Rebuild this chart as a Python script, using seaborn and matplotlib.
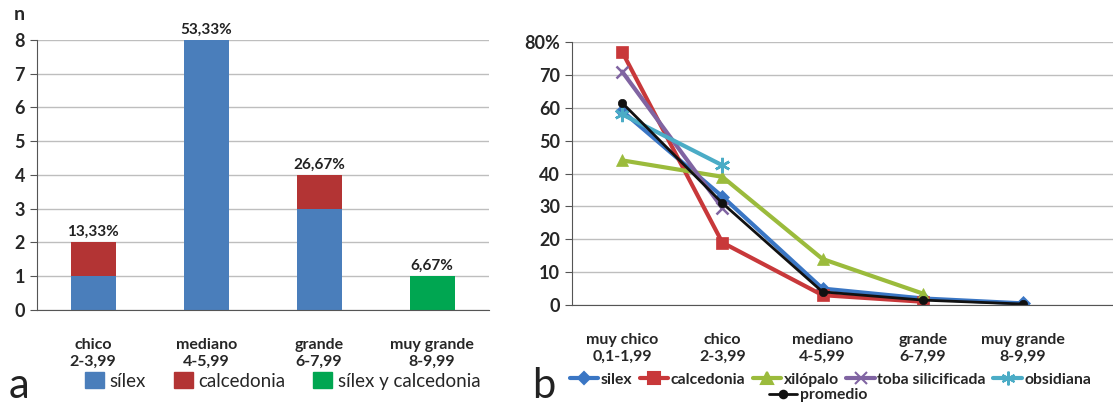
import numpy as np
import pandas as pd
import seaborn as sns
import matplotlib.pyplot as plt
from matplotlib.patches import Patch
from matplotlib.lines import Line2D

# panel a data
bar_cats = ['chico\n2-3,99', 'mediano\n4-5,99', 'grande\n6-7,99', 'muy grande\n8-9,99']
silex_n = [1, 8, 3, 0]
calcedonia_n = [1, 0, 1, 0]
mixto_n = [0, 0, 0, 1]
pct_labels = ['13,33%', '53,33%', '26,67%', '6,67%']

# panel b data
line_cats = ['muy chico\n0,1-1,99', 'chico\n2-3,99', 'mediano\n4-5,99', 'grande\n6-7,99', 'muy grande\n8-9,99']
silex_pct = [59, 33, 5, 2, 0.5]
calcedonia_pct = [77, 19, 3, 1, np.nan]
xilopalo_pct = [44, 39, 14, 3.5, np.nan]
toba_pct = [71, 29.5, np.nan, np.nan, np.nan]
obsidiana_pct = [58, 42.5, np.nan, np.nan, np.nan]
promedio_pct = [61.5, 31, 4, 1.5, 0.3]

sns.set_style("white")
plt.rcParams['font.family'] = ['Lato', 'DejaVu Sans']

BLUE = '#4A7EBB'
RED = '#B33434'
GREEN = '#00A651'
GRID = '#BEBEBE'

fig = plt.figure(figsize=(11.13, 4.04), dpi=100)


def style_axis(ax):
    ax.yaxis.grid(True, color=GRID, linewidth=1)
    ax.set_axisbelow(True)
    for s in ['top', 'right']:
        ax.spines[s].set_visible(False)
    for s in ['left', 'bottom']:
        ax.spines[s].set_color('#555555')
    ax.tick_params(axis='x', which='major', length=0, pad=20)
    ax.tick_params(axis='x', which='minor', length=5, color='#555555', direction='out')
    ax.tick_params(axis='y', length=5, color='#555555', left=True, direction='out')
    for lab in ax.get_xticklabels():
        lab.set_fontweight('bold')
        lab.set_fontsize(11.5)
        lab.set_linespacing(1.25)
    for lab in ax.get_yticklabels():
        lab.set_fontweight('bold')
        lab.set_fontsize(13)
    ax.set_xlabel('')
    ax.set_ylabel('')


# ---- panel a ----
ax1 = fig.add_axes([0.033, 0.233, 0.406, 0.668])
total = [s + c for s, c in zip(silex_n, calcedonia_n)]
sns.barplot(x=bar_cats, y=total, color=RED, width=0.4, linewidth=0, saturation=1, ax=ax1)
sns.barplot(x=bar_cats, y=silex_n, color=BLUE, width=0.4, linewidth=0, saturation=1, ax=ax1)
sns.barplot(x=bar_cats, y=mixto_n, color=GREEN, width=0.4, linewidth=0, saturation=1, ax=ax1)

tops = [t + m for t, m in zip(total, mixto_n)]
for i, (t, lab) in enumerate(zip(tops, pct_labels)):
    ax1.text(i, t + 0.1, lab, ha='center', va='bottom', fontsize=11, fontweight='bold', color='#222222')

ax1.set_ylim(0, 8)
ax1.set_xlim(-0.5, 3.5)
ax1.set_yticks(range(0, 9))
ax1.set_xticks(np.arange(-0.5, 4, 1), minor=True)
style_axis(ax1)
fig.text(0.012, 0.965, 'n', fontsize=14, fontweight='bold', ha='left', va='center')

handles_a = [Patch(color=BLUE, label='sílex'), Patch(color=RED, label='calcedonia'),
             Patch(color=GREEN, label='sílex y calcedonia')]
fig.legend(handles=handles_a, loc='center', bbox_to_anchor=(0.254, 0.057), ncol=3, frameon=False,
           fontsize=13.5, handlelength=1.0, handleheight=0.9, handletextpad=0.3, columnspacing=1.5)
fig.text(0.008, 0.045, 'a', fontsize=30, ha='left', va='center', color='#222222')

# ---- panel b ----
ax2 = fig.add_axes([0.514, 0.245, 0.486, 0.651])
series = [
    ('silex', silex_pct, '#3A76C4', 'D', 7, 3.0),
    ('calcedonia', calcedonia_pct, '#C8383A', 's', 9, 3.0),
    ('xilópalo', xilopalo_pct, '#9BBB3C', '^', 9, 3.0),
    ('toba silicificada', toba_pct, '#8064A2', 'x', 9, 3.0),
    ('obsidiana', obsidiana_pct, '#4BACC6', (6, 2, 0), 11, 3.0),
    ('promedio', promedio_pct, '#111111', 'o', 6, 2.0),
]
handles_b = []
for name, vals, col, mk, ms, lw in series:
    df = pd.DataFrame({'cat': line_cats, 'val': vals}).dropna()
    sns.lineplot(data=df, x='cat', y='val', sort=False, color=col, linewidth=lw, marker=mk,
                 markersize=ms, markeredgecolor=col, markeredgewidth=1.8 if mk in ('x', (6, 2, 0)) else 0.5,
                 ax=ax2)
    handles_b.append(Line2D([0], [0], color=col, linewidth=lw, marker=mk, markersize=ms * 0.9,
                            markeredgecolor=col, markeredgewidth=1.5, label=name))

ax2.set_xticks(range(len(line_cats)))
ax2.set_xticklabels(line_cats)
ax2.set_ylim(0, 80)
ax2.set_xlim(-0.5, 4.9)
ax2.set_yticks(range(0, 81, 10))
ax2.set_yticklabels([str(v) for v in range(0, 80, 10)] + ['80%'])
ax2.set_xticks(np.arange(-0.5, 4.6, 1), minor=True)
style_axis(ax2)

fig.legend(handles=handles_b[:5], loc='center', bbox_to_anchor=(0.746, 0.06), ncol=5, frameon=False,
           handlelength=1.8, handletextpad=0.15, columnspacing=0.5,
           prop={'weight': 'bold', 'size': 11.3})
fig.legend(handles=handles_b[5:], loc='center', bbox_to_anchor=(0.735, 0.022), frameon=False,
           handlelength=1.8, handletextpad=0.15, prop={'weight': 'bold', 'size': 11.3})
fig.text(0.478, 0.045, 'b', fontsize=30, ha='left', va='center', color='#222222')

fig.savefig('out.png', dpi=100, facecolor='white')
